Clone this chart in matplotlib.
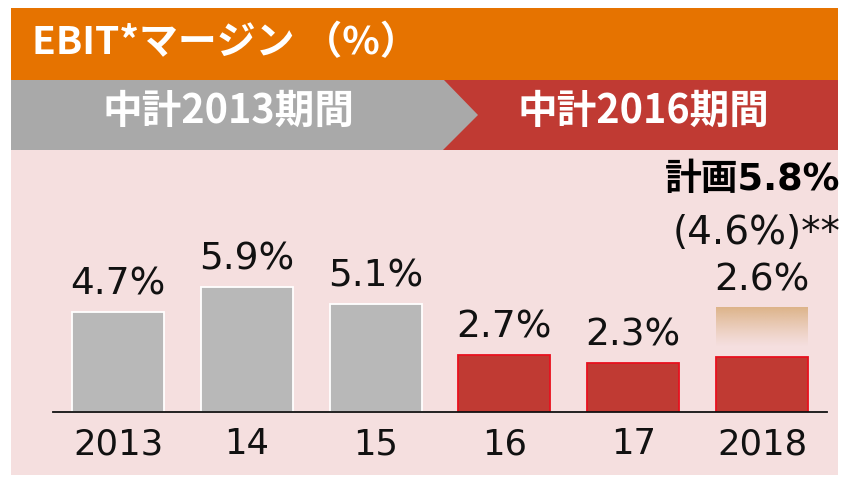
import matplotlib.pyplot as plt
import numpy as np
from matplotlib.patches import Rectangle, Polygon

# data
years = ['2013', '14', '15', '16', '17', '2018']
margin = [4.7, 5.9, 5.1, 2.7, 2.3, 2.6]
period_1 = '中計2013期間'
period_2 = '中計2016期間'
plan_text = '計画5.8%'
plan_sub = '(4.6%)**'
title = 'EBIT*マージン （%）'

# colours
ORANGE = '#E67300'
GREY_BAND = '#A9A9A9'
RED = '#C03A33'
PINK = '#F5DFDF'
GREY_BAR = '#B8B8B8'
RED_EDGE = '#E8101E'
TAN = np.array([221, 180, 138]) / 255.0

JP = ['Noto Sans CJK JP', 'DejaVu Sans']
MIX = ['DejaVu Sans', 'Noto Sans CJK JP']

fig = plt.figure(figsize=(8.46, 4.79), dpi=100)

# background / header drawn in pixel coordinates
bg = fig.add_axes([0, 0, 1, 1])
bg.set_xlim(0, 846)
bg.set_ylim(479, 0)
bg.axis('off')
bg.add_patch(Rectangle((11, 8), 827, 72, color=ORANGE, lw=0))
bg.add_patch(Rectangle((11, 80), 827, 70, color=RED, lw=0))
bg.add_patch(Polygon([(11, 80), (444, 80), (478, 115), (443, 150), (11, 150)],
                     closed=True, color=GREY_BAND, lw=0))
bg.add_patch(Rectangle((11, 150), 827, 325, color=PINK, lw=0))

bg.text(32, 54, title, color='white', fontsize=28, fontweight='bold',
        family=JP, ha='left', va='baseline')
bg.text(228, 123, period_1, color='white', fontsize=28.5, fontweight='bold',
        family=JP, ha='center', va='baseline')
bg.text(643, 123, period_2, color='white', fontsize=28.5, fontweight='bold',
        family=JP, ha='center', va='baseline')
bg.text(840, 190, plan_text, color='black', fontsize=26.5, fontweight='bold',
        family=MIX, ha='right', va='baseline')
bg.text(840, 244, plan_sub, color='#111111', fontsize=28,
        family=MIX, ha='right', va='baseline')

# bar chart
px_per_unit = 21.2
ax = fig.add_axes([53 / 846, 67 / 479, 774 / 846, 260 / 479])
ax.patch.set_alpha(0)
x = np.arange(len(years))
colors = [GREY_BAR] * 3 + [RED] * 3
edges = ['white'] * 3 + [RED_EDGE] * 3
ax.bar(x, margin, width=0.714, color=colors, edgecolor=edges, linewidth=1.3, zorder=3)

# faded "plan" block above the 2018 bar
grad_lo, grad_hi = 3.05, 4.9
grad = np.zeros((64, 1, 4))
grad[:, 0, :3] = TAN
grad[:, 0, 3] = np.linspace(1, 0, 64) ** 1.2
ax.imshow(grad, extent=[5 - 0.357, 5 + 0.357, grad_lo, grad_hi], origin='upper',
          aspect='auto', zorder=2, interpolation='bilinear')

for i, v in enumerate(margin):
    y = grad_hi if i == len(margin) - 1 else v
    ax.annotate(f'{v}%', (i, y), xytext=(0, 12.5), textcoords='offset points',
                ha='center', va='baseline', fontsize=27, color='#111111',
                family='DejaVu Sans')

ax.set_xlim(-0.505, 5.505)
ax.set_ylim(0, 260 / px_per_unit)
ax.set_xticks(x)
ax.set_xticklabels(years, fontsize=25.5, color='#111111')
ax.tick_params(axis='x', length=0, pad=11)
ax.set_yticks([])
for s in ['top', 'right', 'left']:
    ax.spines[s].set_visible(False)
ax.spines['bottom'].set_linewidth(1.3)
ax.spines['bottom'].set_color('#111111')
ax.spines['bottom'].set_zorder(4)

plt.savefig('out.png', dpi=100)
